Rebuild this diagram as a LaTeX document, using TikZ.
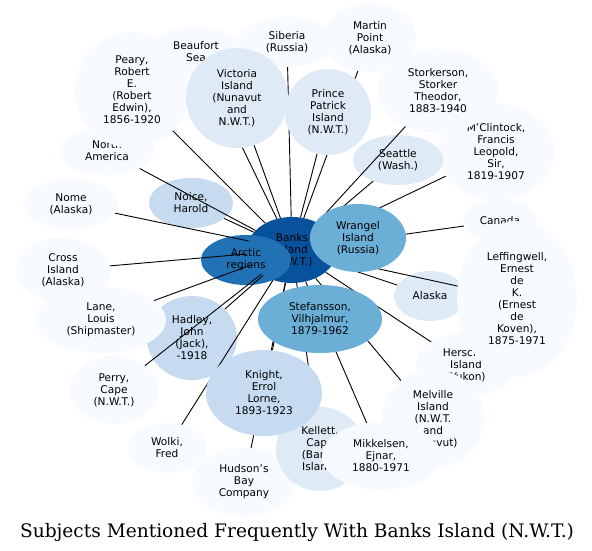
\documentclass[tikz,border=0pt]{standalone}
\usepackage{fontspec}
\setmainfont{DejaVu Sans}
\newfontfamily\titlefont{DejaVu Serif}
\usetikzlibrary{shapes.geometric}
\definecolor{b0}{HTML}{F7FBFF}
\definecolor{b1}{HTML}{DEEBF7}
\definecolor{b2}{HTML}{C6DBEF}
\definecolor{b3}{HTML}{6BAED6}
\definecolor{b4}{HTML}{2171B5}
\definecolor{b5}{HTML}{08519C}
\pgfdeclarelayer{under}
\pgfdeclarelayer{links}
\pgfsetlayers{under,links,main}
\tikzset{
  nd/.style={ellipse, draw=none, inner sep=0pt, align=center, text=black,
    font=\fontsize{10.6}{12}\selectfont},
  l0/.style={nd, fill=b0},
  l1/.style={nd, fill=b1},
  l2/.style={nd, fill=b2},
  l3/.style={nd, fill=b3},
  l4/.style={nd, fill=b4},
  l5/.style={nd, fill=b5},
  sz/.style 2 args={minimum width=#1, minimum height=#2},
  edge/.style={draw=black, line width=0.9pt},
}
\begin{document}
\begin{tikzpicture}[x=1pt,y=-1pt]
\begin{pgfonlayer}{under}
\useasboundingbox (0,0) rectangle (592,551);
\fill[white] (0,0) rectangle (592,551);
% ---- nodes below the connectors ----
\node[l0, sz={94}{50}] (beaufort) at (196,52) {Beaufort\\Sea};
\node[l0, sz={94}{48}] (northam) at (107,151) {North\\America};
\node[l0, sz={114}{116}] (peary) at (132,90) {Peary,\\Robert\\E.\\(Robert\\Edwin),\\1856-1920};
\node[l0, sz={96}{50}] (siberia) at (287,42) {Siberia\\(Russia)};
\node[l0, sz={92}{68}] (martin) at (370,38) {Martin\\Point\\(Alaska)};
\node[l0, sz={116}{96}] (mcclintock) at (496,152) {M'Clintock,\\Francis\\Leopold,\\Sir,\\1819-1907};
\node[l0, sz={120}{84}] (storkerson) at (438,91) {Storkerson,\\Storker\\Theodor,\\1883-1940};
\node[l1, sz={90}{50}] (seattle) at (398,160) {Seattle\\(Wash.)};
\node[l0, sz={74}{44}] (canada) at (500,221) {Canada};
\node[l0, sz={100}{64}] (herschel) at (466,365) {Herschel\\Island\\(Yukon)};
\node[l1, sz={72}{50}] (alaska) at (430,296) {Alaska};
\node[l0, sz={120}{156}] (leffingwell) at (517,299) {Leffingwell,\\Ernest\\de\\K.\\(Ernest\\de\\Koven),\\1875-1971};
\node[l0, sz={102}{98}] (melville) at (433,419) {Melville\\Island\\(N.W.T.\\and\\Nunavut)};
\node[l0, sz={104}{68}] (hudson) at (244,482) {Hudson's\\Bay\\Company};
\node[l1, sz={88}{84}] (kellett) at (320,449) {Kellett,\\Cape\\(Banks\\Island)};
\node[l0, sz={118}{68}] (mikkelsen) at (381,456) {Mikkelsen,\\Ejnar,\\1880-1971};
\node[l0, sz={78}{50}] (wolki) at (167,448) {Wolki,\\Fred};
\node[l0, sz={88}{68}] (perry) at (114,390) {Perry,\\Cape\\(N.W.T.)};
\node[l0, sz={94}{64}] (cross) at (63,270) {Cross\\Island\\(Alaska)};
\node[l0, sz={94}{50}] (nome) at (71,204) {Nome\\(Alaska)};
\node[l2, sz={90}{84}] (hadley) at (192,338) {Hadley,\\John\\(Jack),\\-1918};
\node[l0, sz={130}{66}] (lane) at (101,320) {Lane,\\Louis\\(Shipmaster)};
\node[l2, sz={84}{50}] (noice) at (191,203) {Noice,\\Harold};
\node[l5, sz={90}{66}] (banks) at (292,250) {Banks\\Island\\(N.W.T.)};
\node[l4, sz={90}{50}] (arctic) at (246,260) {Arctic\\regions};
\end{pgfonlayer}
% ---- nodes above the connectors ----
\node[l1, sz={102}{100}] (victoria) at (237,98) {Victoria\\Island\\(Nunavut\\and\\N.W.T.)};
\node[l1, sz={86}{86}] (prince) at (328,112) {Prince\\Patrick\\Island\\(N.W.T.)};
\node[l3, sz={96}{68}] (wrangel) at (358,238) {Wrangel\\Island\\(Russia)};
\node[l3, sz={124}{68}] (stefansson) at (320,319) {Stefansson,\\Vilhjalmur,\\1879-1962};
\node[l2, sz={116}{86}] (knight) at (264,393) {Knight,\\Errol\\Lorne,\\1893-1923};
% ---- connectors ----
\begin{pgfonlayer}{links}
\foreach \t in {beaufort,northam,peary,siberia,martin,mcclintock,storkerson,
  seattle,canada,herschel,alaska,leffingwell,melville,hudson,kellett,
  mikkelsen,wolki,perry,cross,nome,hadley,lane,noice,victoria,prince,knight}
  \draw[edge] (banks) -- (\t);
\end{pgfonlayer}
\node[font=\titlefont\fontsize{18.6}{20}\selectfont, inner sep=0pt, anchor=base] (title) at (297,537) {Subjects Mentioned Frequently With Banks Island (N.W.T.)};
\end{tikzpicture}
\end{document}
